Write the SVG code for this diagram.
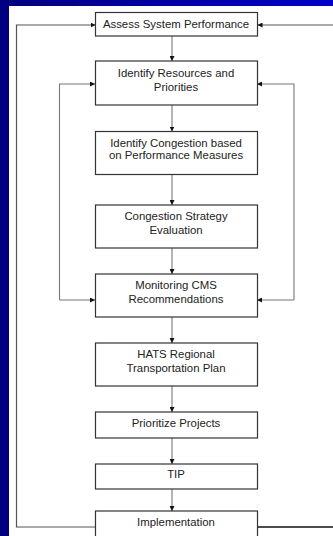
<svg xmlns="http://www.w3.org/2000/svg" width="333" height="536" viewBox="0 0 333 536">
  <defs>
    <linearGradient id="band" x1="0" y1="0" x2="1" y2="0">
      <stop offset="0" stop-color="#000080"/>
      <stop offset="1" stop-color="#0000c8"/>
    </linearGradient>
    <marker id="arrow" viewBox="0 0 6 6" refX="6" refY="3" markerWidth="5" markerHeight="5" markerUnits="userSpaceOnUse" orient="auto">
      <path d="M0,0 L6,3 L0,6 z" fill="#111"/>
    </marker>
    <style>
      .box { fill: #ffffff; stroke: #333333; stroke-width: 1.2; }
      .label { font-family: "Liberation Sans", Arial, sans-serif; font-size: 11.4px; fill: #222222; text-anchor: middle; }
      .link { fill: none; stroke: #777777; stroke-width: 1.1; }
      .loop { fill: none; stroke: #555555; stroke-width: 1.2; }
    </style>
  </defs>

  <!-- slide frame -->
  <rect x="0" y="0" width="333" height="536" fill="#ffffff"/>
  <rect x="0" y="0" width="333" height="6" fill="url(#band)"/>
  <rect x="0" y="0" width="9" height="536" fill="#000080"/>

  <g id="connectors">
    <!-- main sequence -->
    <line class="link" x1="172" y1="36" x2="172" y2="61" marker-end="url(#arrow)"/>
    <line class="link" x1="172" y1="105" x2="172" y2="131.5" marker-end="url(#arrow)"/>
    <line class="link" x1="172" y1="174.5" x2="172" y2="205" marker-end="url(#arrow)"/>
    <line class="link" x1="172" y1="248" x2="172" y2="274" marker-end="url(#arrow)"/>
    <line class="link" x1="172" y1="317" x2="172" y2="343" marker-end="url(#arrow)"/>
    <line class="link" x1="172" y1="386" x2="172" y2="412" marker-end="url(#arrow)"/>
    <line class="link" x1="172" y1="438" x2="172" y2="464" marker-end="url(#arrow)"/>
    <line class="link" x1="172" y1="489" x2="172" y2="511" marker-end="url(#arrow)"/>
    <!-- inner loops -->
    <polyline class="link" points="59.5,300 59.5,84 95,84" marker-end="url(#arrow)"/>
    <line class="link" x1="59.5" y1="300" x2="95" y2="300" marker-end="url(#arrow)"/>
    <polyline class="link" points="294,300 294,84 257,84" marker-end="url(#arrow)"/>
    <line class="link" x1="294" y1="300" x2="257" y2="300" marker-end="url(#arrow)"/>
    <!-- outer feedback -->
    <polyline class="loop" points="95,527 16.5,527 16.5,25 95.5,25" marker-end="url(#arrow)"/>
    <line class="loop" x1="333" y1="25" x2="257.5" y2="25" marker-end="url(#arrow)"/>
    <line x1="257" y1="527" x2="333" y2="527" stroke="#111111" stroke-width="1.6"/>
  </g>

  <g id="assess">
    <rect class="box" x="95.5" y="12.5" width="162" height="23.5"/>
    <text class="label" x="176" y="28">Assess System Performance</text>
  </g>
  <g id="resources">
    <rect class="box" x="95.5" y="61" width="162" height="44"/>
    <text class="label" x="176" y="77">Identify Resources and</text>
    <text class="label" x="176" y="91">Priorities</text>
  </g>
  <g id="congestion">
    <rect class="box" x="95.5" y="131.5" width="162" height="43"/>
    <text class="label" x="176" y="146.5">Identify Congestion based</text>
    <text class="label" x="176" y="158.5">on Performance Measures</text>
  </g>
  <g id="strategy">
    <rect class="box" x="95.5" y="205" width="162" height="43"/>
    <text class="label" x="176" y="220">Congestion Strategy</text>
    <text class="label" x="176" y="233.5">Evaluation</text>
  </g>
  <g id="monitoring">
    <rect class="box" x="95.5" y="274" width="162" height="43"/>
    <text class="label" x="176" y="288.5">Monitoring CMS</text>
    <text class="label" x="176" y="302.5">Recommendations</text>
  </g>
  <g id="hats">
    <rect class="box" x="95.5" y="343" width="162" height="43"/>
    <text class="label" x="176" y="357.5">HATS Regional</text>
    <text class="label" x="176" y="371.5">Transportation Plan</text>
  </g>
  <g id="prioritize">
    <rect class="box" x="95.5" y="412" width="162" height="26"/>
    <text class="label" x="176" y="426.5">Prioritize Projects</text>
  </g>
  <g id="tip">
    <rect class="box" x="95.5" y="464" width="162" height="25"/>
    <text class="label" x="176" y="478">TIP</text>
  </g>
  <g id="implementation">
    <rect class="box" x="95.5" y="511" width="162" height="30"/>
    <text class="label" x="176" y="525.5">Implementation</text>
  </g>
</svg>
